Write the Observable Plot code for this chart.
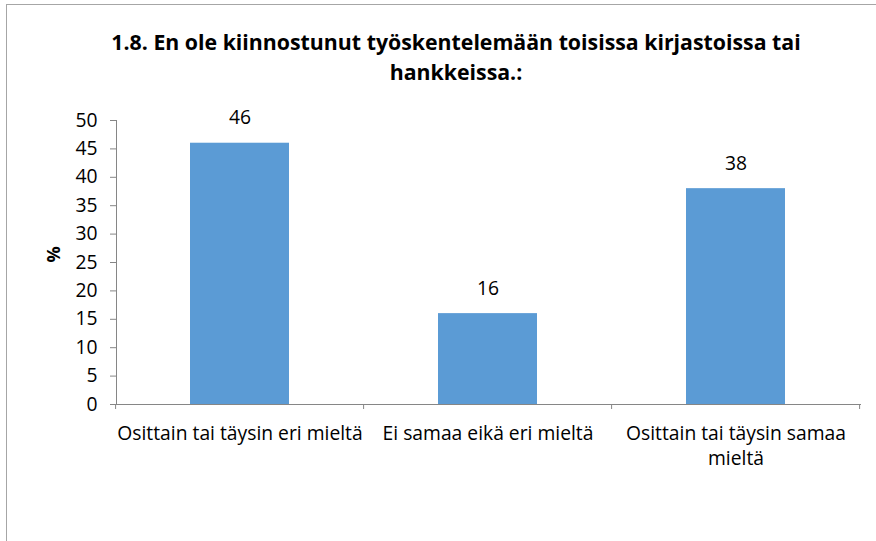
<!DOCTYPE html>
<html>
<head>
<meta charset="utf-8">
<script src="https://cdn.jsdelivr.net/npm/d3@7"></script>
<script src="https://cdn.jsdelivr.net/npm/@observablehq/plot@0.6"></script>
<style>
  html, body { margin: 0; padding: 0; background: #fff; width: 876px; height: 541px; overflow: hidden; }
  #frame { position: absolute; left: 6px; top: 4px; width: 900px; height: 600px; border: 1px solid #a6a6a6; box-sizing: border-box; }
  #title { position: absolute; left: 6px; top: 27px; width: 900px; text-align: center; font-family: "Open Sans", sans-serif; font-weight: bold; font-size: 21.3px; line-height: 30px; color: #000; }
  #chart { position: absolute; left: 0; top: 90px; }
</style>
</head>
<body>
<div id="frame"></div>
<div id="title">1.8. En ole kiinnostunut työskentelemään toisissa kirjastoissa tai<br>hankkeissa.:</div>
<div id="chart"></div>
<script>
const categories = ["Osittain tai täysin eri mieltä", "Ei samaa eikä eri mieltä", "Osittain tai täysin samaa mieltä"];
const values = [46, 16, 38];
const tickLabels = ["Osittain tai täysin eri mieltä", "Ei samaa eikä eri mieltä", "Osittain tai täysin samaa\nmieltä"];
const yTicks = [0, 5, 10, 15, 20, 25, 30, 35, 40, 45, 50];

const data = categories.map((c, i) => ({category: c, value: values[i]}));
const axisColor = "#868686";
const paddingInner = 0.6, paddingOuter = 0.3;
const fs = 19.3;

function boundaryTicks(index, scales, vals, dims) {
  const x = scales.x, y = scales.y;
  const s0 = x(categories[0]), s1 = x(categories[1]);
  const step = s1 - s0;
  const g = d3.create("svg:g");
  const y0 = y(0);
  for (let i = 0; i <= categories.length; i++) {
    const bx = i < categories.length ? x(categories[i]) - paddingInner / 2 * step : x(categories[categories.length - 1]) + (1 - paddingInner / 2) * step;
    g.append("line").attr("x1", bx).attr("x2", bx).attr("y1", y0).attr("y2", y0 + 5)
      .attr("stroke", axisColor).attr("stroke-width", 1);
  }
  return g.node();
}

const chart = Plot.plot({
  width: 876,
  height: 394,
  marginLeft: 116,
  marginRight: 16,
  marginTop: 30,
  marginBottom: 80,
  style: {fontFamily: "'Open Sans', sans-serif", fontSize: fs + "px", color: "#000", background: "transparent"},
  x: {domain: categories, paddingInner, paddingOuter, label: null},
  y: {domain: [0, 50], label: null},
  marks: [
    Plot.barY(data, {x: "category", y: "value", fill: "#5B9BD5"}),
    Plot.frame({anchor: "left", stroke: axisColor}),
    Plot.frame({anchor: "bottom", stroke: axisColor}),
    Plot.axisY({ticks: yTicks, tickSize: 6, tickPadding: 13, stroke: axisColor, fill: "#000", fontSize: fs, label: null}),
    Plot.axisX({tickSize: 0, tickPadding: 18, tickFormat: (d) => tickLabels[categories.indexOf(d)], lineHeight: 1.3, fill: "#000", fontSize: fs, label: null}),
    boundaryTicks,
    Plot.text(data, {x: "category", y: "value", text: (d) => String(d.value), dy: -25, fill: "#000", fontSize: fs}),
    Plot.text(["%"], {frameAnchor: "left", dx: -62, text: (d) => d, rotate: -90, fontWeight: "bold", fontSize: 18, fill: "#000"})
  ]
});
document.getElementById("chart").appendChild(chart);
</script>
</body>
</html>
